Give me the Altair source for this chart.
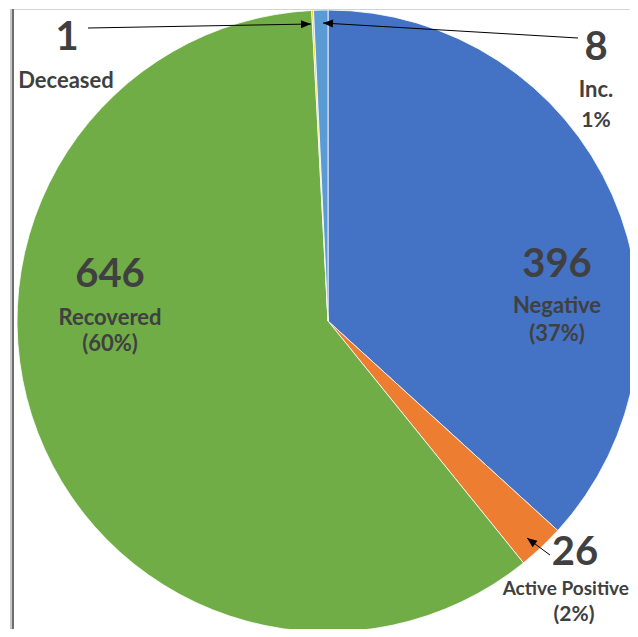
import altair as alt
import pandas as pd

# ---- data ----
categories = ["Negative", "Active Positive", "Recovered", "Deceased", "Inc."]
values = [396, 26, 646, 1, 8]
colors = ["#4472C4", "#ED7D31", "#70AD47", "#FFC000", "#5B9BD5"]
name_labels = ["Negative", "Active Positive", "Recovered", "Deceased", "Inc."]
pct_labels = ["(37%)", "(2%)", "(60%)", "", "1%"]

df = pd.DataFrame({
    "category": categories,
    "value": values,
    "order": list(range(len(categories))),
})

# ---- layout (chart coordinates = page - 8px margin) ----
CX, CY, R = 320, 313, 311
# (x, baseline y, align, font size)
num_pos = {"Negative": (549, 269), "Active Positive": (567, 557), "Recovered": (102, 279),
           "Deceased": (59, 42), "Inc.": (588, 52)}
name_pos = {"Negative": (549, 305, "center", 22), "Active Positive": (621, 587, "right", 19),
            "Recovered": (102, 317, "center", 22), "Deceased": (58, 80, "center", 22),
            "Inc.": (588, 89, "center", 22)}
pct_pos = {"Negative": (549, 333, "center", 22), "Active Positive": (566, 613, "center", 21),
           "Recovered": (102, 343, "center", 22), "Deceased": (58, 110, "center", 22),
           "Inc.": (588, 119, "center", 21)}
arrows = [  # (x tail, y tail, x tip, y tip, angle)
    (80, 20, 303, 16, 89),
    (570, 30, 315, 15, 273.4),
    (542, 547, 519, 530, 306.5),
]

FONT = "Lato"
TXT = "#404040"

pie = alt.Chart(df).mark_arc(radius=R, stroke="white", strokeWidth=0.8).encode(
    theta=alt.Theta("value:Q", stack=True),
    color=alt.Color("category:N", scale=alt.Scale(domain=categories, range=colors), legend=None),
    order=alt.Order("order:Q"),
    x=alt.value(CX),
    y=alt.value(CY),
)

layers = [pie]

for cat, val, nm, pc in zip(categories, values, name_labels, pct_labels):
    row = pd.DataFrame({"num": [str(val)], "name": [nm], "pct": [pc]})
    nx, ny = num_pos[cat]
    layers.append(alt.Chart(row).mark_text(font=FONT, fontWeight="bold", fontSize=40,
                                           color=TXT, baseline="alphabetic", align="center").encode(
        text="num:N", x=alt.value(nx), y=alt.value(ny)))
    mx, my, ma, ms = name_pos[cat]
    layers.append(alt.Chart(row).mark_text(font=FONT, fontWeight="bold", fontSize=ms,
                                           color=TXT, baseline="alphabetic", align=ma).encode(
        text="name:N", x=alt.value(mx), y=alt.value(my)))
    if pc:
        px, py, pa, ps = pct_pos[cat]
        layers.append(alt.Chart(row).mark_text(font=FONT, fontWeight="bold", fontSize=ps,
                                               color=TXT, baseline="alphabetic", align=pa).encode(
            text="pct:N", x=alt.value(px), y=alt.value(py)))

one = pd.DataFrame({"k": [0]})
for (x0, y0, x1, y1, ang) in arrows:
    layers.append(alt.Chart(one).mark_rule(color="black", strokeWidth=1).encode(
        x=alt.value(x0), y=alt.value(y0), x2=alt.value(x1), y2=alt.value(y1)))
    layers.append(alt.Chart(one).mark_point(
        shape="M0,0 L0.8,2 L-0.8,2 Z", filled=True, color="black", size=100,
        angle=ang, opacity=1).encode(x=alt.value(x1), y=alt.value(y1)))

# frame decoration (screenshot border)
layers.append(alt.Chart(one).mark_rule(color="#d4d4d4", strokeWidth=1).encode(
    x=alt.value(4), x2=alt.value(622), y=alt.value(1.5)))
layers.append(alt.Chart(one).mark_rect(color="#c8c8c8").encode(
    x=alt.value(2), x2=alt.value(4), y=alt.value(1), y2=alt.value(621)))
layers.append(alt.Chart(one).mark_rect(color="#6e6e6e").encode(
    x=alt.value(4), x2=alt.value(6), y=alt.value(1), y2=alt.value(621)))

chart = alt.layer(*layers).properties(
    width=622, height=621, autosize="none", padding=0, background="white"
).configure_view(stroke=None)

chart.save("out.html", embed_options={"renderer": "svg", "actions": False})
